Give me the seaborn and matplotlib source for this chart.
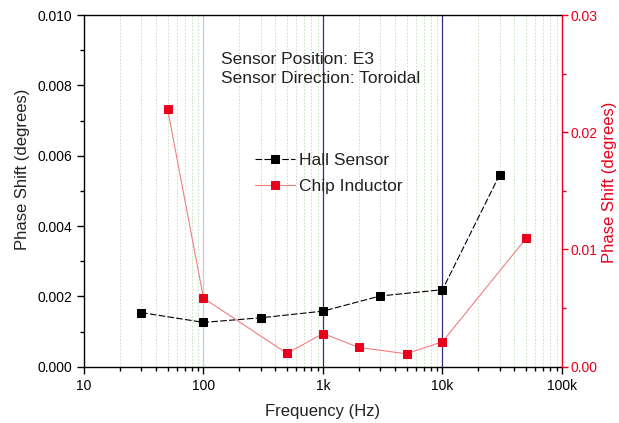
import numpy as np
import pandas as pd
import matplotlib
matplotlib.use("Agg")
import matplotlib.pyplot as plt
import seaborn as sns
from matplotlib.ticker import FixedLocator, MultipleLocator, FuncFormatter, LogLocator

sns.set_theme(style="white")
plt.rcParams['font.family'] = ['Liberation Sans', 'DejaVu Sans']

hall_freq = [30, 100, 300, 1000, 3000, 10000, 30000]
hall_phase = [0.00154, 0.00126, 0.00139, 0.00158, 0.00201, 0.00219, 0.00545]
chip_freq = [50, 100, 500, 1000, 2000, 5000, 10000, 50000]
chip_phase = [0.0220, 0.00585, 0.00113, 0.00283, 0.00164, 0.0011, 0.00213, 0.01095]
xtick_vals = [10, 100, 1000, 10000, 100000]
xtick_labels = ["10", "100", "1k", "10k", "100k"]

hall_df = pd.DataFrame({"freq": hall_freq, "phase": hall_phase})
chip_df = pd.DataFrame({"freq": chip_freq, "phase": chip_phase})

fig = plt.figure(figsize=(6.19, 4.23), dpi=100)
ax = fig.add_axes([0.1357, 0.1331, 0.7722, 0.8314])
ax2 = ax.twinx()

red = "#e8001c"

# grid lines
for d in [10, 100, 1000, 10000]:
    for m in range(2, 10):
        ax.axvline(d * m, color="#c4dcbc", lw=0.6, ls=(0, (2, 2)), zorder=0)
ax.axvline(100, color="#c8c8d8", lw=0.9, zorder=0)
ax.axvline(1000, color="#30307a", lw=0.9, zorder=0)
ax.axvline(10000, color="#30307a", lw=0.9, zorder=0)

sns.lineplot(data=hall_df, x="freq", y="phase", ax=ax, color="black", lw=0.8,
             ls=(0, (6, 2)), marker="s", markersize=5.3, markeredgecolor="black",
             markerfacecolor="black", label="Hall Sensor", legend=False, zorder=3)
sns.lineplot(data=chip_df, x="freq", y="phase", ax=ax2, color="#f08080", lw=0.8,
             marker="s", markersize=5.3, markeredgecolor=red,
             markerfacecolor=red, label="Chip Inductor", legend=False, zorder=3)

ax.set_xscale("log")
ax.set_xlim(10, 100000)
ax.set_ylim(0, 0.010)
ax2.set_ylim(0, 0.03)

ax.xaxis.set_major_locator(FixedLocator(xtick_vals))
ax.set_xticklabels(xtick_labels)
ax.xaxis.set_minor_locator(LogLocator(base=10, subs=np.arange(2, 10)))
ax.xaxis.set_minor_formatter(FuncFormatter(lambda v, p: ""))

ax.yaxis.set_major_locator(MultipleLocator(0.002))
ax.yaxis.set_minor_locator(MultipleLocator(0.001))
ax.yaxis.set_major_formatter(FuncFormatter(lambda v, p: f"{v:.3f}"))
ax2.yaxis.set_major_locator(MultipleLocator(0.01))
ax2.yaxis.set_minor_locator(MultipleLocator(0.005))
ax2.yaxis.set_major_formatter(FuncFormatter(lambda v, p: f"{v:.2f}"))

for s in ["left", "bottom", "top"]:
    ax.spines[s].set_color("black")
    ax.spines[s].set_linewidth(1.0)
ax.spines["right"].set_visible(False)
for s in ["left", "bottom", "top"]:
    ax2.spines[s].set_visible(False)
ax2.spines["right"].set_color(red)
ax2.spines["right"].set_linewidth(1.0)

ax.tick_params(axis="both", which="major", direction="out", length=5, width=1,
               colors="black", labelsize=10, bottom=True, left=True, top=False)
ax.tick_params(axis="both", which="minor", direction="out", length=3, width=1,
               colors="black", bottom=True, left=True, top=False)
ax.tick_params(axis="y", which="both", right=False)
ax2.tick_params(axis="y", which="major", direction="out", length=4, width=1,
                colors=red, labelsize=10, right=True, pad=2)
ax2.tick_params(axis="y", which="minor", direction="out", length=3, width=1,
                colors=red, right=True)

ax.set_xlabel("Frequency (Hz)", fontsize=12, color="#222222", labelpad=8.5)
ax.set_ylabel("Phase Shift (degrees)", fontsize=12, color="#222222")
ax2.set_ylabel("Phase Shift (degrees)", fontsize=12, color=red)
ax.yaxis.set_label_coords(-0.113, 0.562)
ax2.yaxis.set_label_coords(1.083, 0.525)

ax.text(0.2866, 0.8465, "Sensor Position: E3\nSensor Direction: Toroidal",
        transform=ax.transAxes, fontsize=12.5, color="#222222", va="center",
        linespacing=1.3)

h1, l1 = ax.get_legend_handles_labels()
h2, l2 = ax2.get_legend_handles_labels()
leg = ax2.legend(h1 + h2, l1 + l2, loc="upper left", bbox_to_anchor=(0.358, 0.607),
                 frameon=False, fontsize=12.5, handlelength=2.3, handletextpad=0.25,
                 labelspacing=0.62, borderaxespad=0, borderpad=0)
for t in leg.get_texts():
    t.set_color("#222222")

ax.set_zorder(ax2.get_zorder() - 1)
ax2.patch.set_visible(False)

fig.savefig("out.png", dpi=100)
